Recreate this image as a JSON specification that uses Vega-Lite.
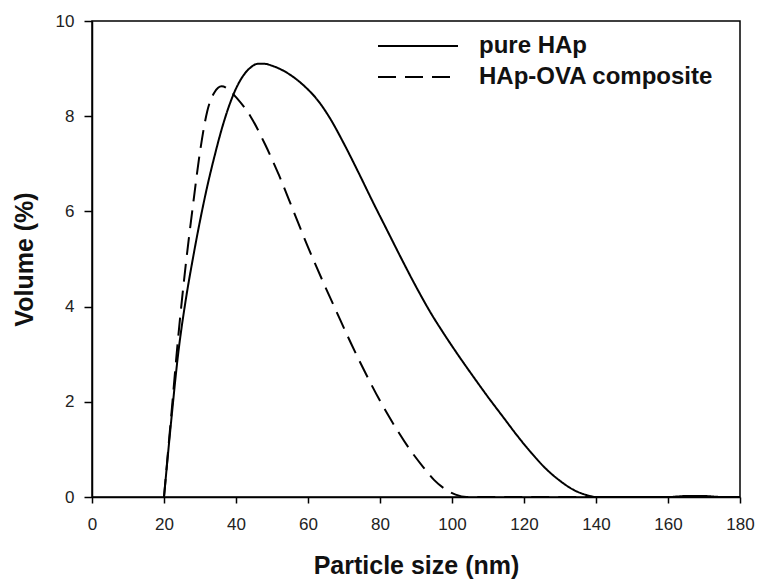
{
  "$schema": "https://vega.github.io/schema/vega-lite/v6.json",
  "width": 648,
  "height": 476,
  "autosize": {"type": "none"},
  "padding": {"left": 92, "top": 21, "right": 17, "bottom": 84},
  "background": "white",
  "config": {
    "font": "Liberation Sans",
    "view": {"stroke": "black", "strokeWidth": 1.5},
    "axis": {
      "grid": false,
      "domainColor": "black",
      "domainWidth": 1.5,
      "tickColor": "black",
      "tickWidth": 1.5,
      "labelColor": "#222",
      "titleColor": "#111",
      "labelFont": "Liberation Sans",
      "titleFont": "Liberation Sans",
      "titleFontWeight": "bold"
    }
  },
  "data": {
    "values": [
      {"series": "pure HAp", "size": 20, "volume": 0},
      {"series": "pure HAp", "size": 22, "volume": 1.6},
      {"series": "pure HAp", "size": 24, "volume": 3.05},
      {"series": "pure HAp", "size": 26, "volume": 4.12},
      {"series": "pure HAp", "size": 28, "volume": 5.0},
      {"series": "pure HAp", "size": 30, "volume": 5.8},
      {"series": "pure HAp", "size": 32, "volume": 6.52},
      {"series": "pure HAp", "size": 34, "volume": 7.15},
      {"series": "pure HAp", "size": 36, "volume": 7.72},
      {"series": "pure HAp", "size": 38, "volume": 8.2},
      {"series": "pure HAp", "size": 40, "volume": 8.58},
      {"series": "pure HAp", "size": 42, "volume": 8.85},
      {"series": "pure HAp", "size": 44, "volume": 9.02},
      {"series": "pure HAp", "size": 46, "volume": 9.1},
      {"series": "pure HAp", "size": 48, "volume": 9.1},
      {"series": "pure HAp", "size": 50, "volume": 9.06},
      {"series": "pure HAp", "size": 52, "volume": 9.0},
      {"series": "pure HAp", "size": 54, "volume": 8.92},
      {"series": "pure HAp", "size": 56, "volume": 8.82},
      {"series": "pure HAp", "size": 58, "volume": 8.7},
      {"series": "pure HAp", "size": 60, "volume": 8.56},
      {"series": "pure HAp", "size": 62, "volume": 8.4},
      {"series": "pure HAp", "size": 66, "volume": 7.97},
      {"series": "pure HAp", "size": 70, "volume": 7.42},
      {"series": "pure HAp", "size": 74, "volume": 6.82},
      {"series": "pure HAp", "size": 78, "volume": 6.2},
      {"series": "pure HAp", "size": 82, "volume": 5.6},
      {"series": "pure HAp", "size": 86, "volume": 5.0},
      {"series": "pure HAp", "size": 90, "volume": 4.42},
      {"series": "pure HAp", "size": 94, "volume": 3.88},
      {"series": "pure HAp", "size": 98, "volume": 3.4},
      {"series": "pure HAp", "size": 102, "volume": 2.95},
      {"series": "pure HAp", "size": 106, "volume": 2.52},
      {"series": "pure HAp", "size": 110, "volume": 2.1},
      {"series": "pure HAp", "size": 114, "volume": 1.7},
      {"series": "pure HAp", "size": 118, "volume": 1.3},
      {"series": "pure HAp", "size": 122, "volume": 0.93},
      {"series": "pure HAp", "size": 126, "volume": 0.6},
      {"series": "pure HAp", "size": 130, "volume": 0.34},
      {"series": "pure HAp", "size": 134, "volume": 0.14},
      {"series": "pure HAp", "size": 137, "volume": 0.05},
      {"series": "pure HAp", "size": 140, "volume": 0},
      {"series": "pure HAp", "size": 160, "volume": 0},
      {"series": "pure HAp", "size": 165, "volume": 0.02},
      {"series": "pure HAp", "size": 170, "volume": 0.02},
      {"series": "pure HAp", "size": 175, "volume": 0},
      {"series": "pure HAp", "size": 180, "volume": 0},
      {"series": "HAp-OVA composite", "size": 20, "volume": 0},
      {"series": "HAp-OVA composite", "size": 22, "volume": 1.7},
      {"series": "HAp-OVA composite", "size": 24, "volume": 3.4},
      {"series": "HAp-OVA composite", "size": 26, "volume": 4.85},
      {"series": "HAp-OVA composite", "size": 28, "volume": 6.1},
      {"series": "HAp-OVA composite", "size": 30, "volume": 7.25},
      {"series": "HAp-OVA composite", "size": 32, "volume": 8.1},
      {"series": "HAp-OVA composite", "size": 34, "volume": 8.5},
      {"series": "HAp-OVA composite", "size": 36, "volume": 8.63},
      {"series": "HAp-OVA composite", "size": 38, "volume": 8.56},
      {"series": "HAp-OVA composite", "size": 40, "volume": 8.4},
      {"series": "HAp-OVA composite", "size": 44, "volume": 8.0},
      {"series": "HAp-OVA composite", "size": 48, "volume": 7.42},
      {"series": "HAp-OVA composite", "size": 52, "volume": 6.75},
      {"series": "HAp-OVA composite", "size": 56, "volume": 6.0},
      {"series": "HAp-OVA composite", "size": 60, "volume": 5.25},
      {"series": "HAp-OVA composite", "size": 64, "volume": 4.55},
      {"series": "HAp-OVA composite", "size": 68, "volume": 3.88},
      {"series": "HAp-OVA composite", "size": 72, "volume": 3.22},
      {"series": "HAp-OVA composite", "size": 76, "volume": 2.6},
      {"series": "HAp-OVA composite", "size": 80, "volume": 2.02},
      {"series": "HAp-OVA composite", "size": 84, "volume": 1.5},
      {"series": "HAp-OVA composite", "size": 88, "volume": 1.03},
      {"series": "HAp-OVA composite", "size": 92, "volume": 0.63},
      {"series": "HAp-OVA composite", "size": 95, "volume": 0.36},
      {"series": "HAp-OVA composite", "size": 98, "volume": 0.17},
      {"series": "HAp-OVA composite", "size": 101, "volume": 0.05},
      {"series": "HAp-OVA composite", "size": 104, "volume": 0},
      {"series": "HAp-OVA composite", "size": 180, "volume": 0}
    ]
  },
  "mark": {"type": "line", "color": "black", "strokeWidth": 2, "interpolate": "monotone"},
  "encoding": {
    "x": {
      "field": "size",
      "type": "quantitative",
      "scale": {"domain": [0, 180], "nice": false, "zero": false},
      "axis": {
        "title": "Particle size (nm)",
        "values": [0, 20, 40, 60, 80, 100, 120, 140, 160, 180],
        "tickSize": 6,
        "labelPadding": 13,
        "labelFontSize": 17,
        "titleFontSize": 25,
        "titlePadding": 21,
        "labelFlush": false
      }
    },
    "y": {
      "field": "volume",
      "type": "quantitative",
      "scale": {"domain": [0, 10], "nice": false},
      "axis": {
        "title": "Volume (%)",
        "values": [0, 2, 4, 6, 8, 10],
        "tickSize": 8,
        "labelPadding": 10,
        "labelFontSize": 17,
        "titleFontSize": 25,
        "titlePadding": 18,
        "labelFlush": false
      }
    },
    "strokeDash": {
      "field": "series",
      "type": "nominal",
      "scale": {
        "domain": ["pure HAp", "HAp-OVA composite"],
        "range": [[1, 0], [18, 9]]
      },
      "legend": {
        "title": null,
        "orient": "none",
        "legendX": 309,
        "legendY": 8,
        "padding": 0,
        "symbolType": "M-2.5,0H2.5",
        "symbolSize": 1024,
        "symbolStrokeWidth": 2,
        "symbolStrokeColor": "black",
        "labelOffset": 44,
        "labelFontSize": 24,
        "labelFontWeight": "bold",
        "labelColor": "#111",
        "labelFont": "Liberation Sans",
        "labelLimit": 400,
        "rowPadding": 2
      }
    }
  }
}
